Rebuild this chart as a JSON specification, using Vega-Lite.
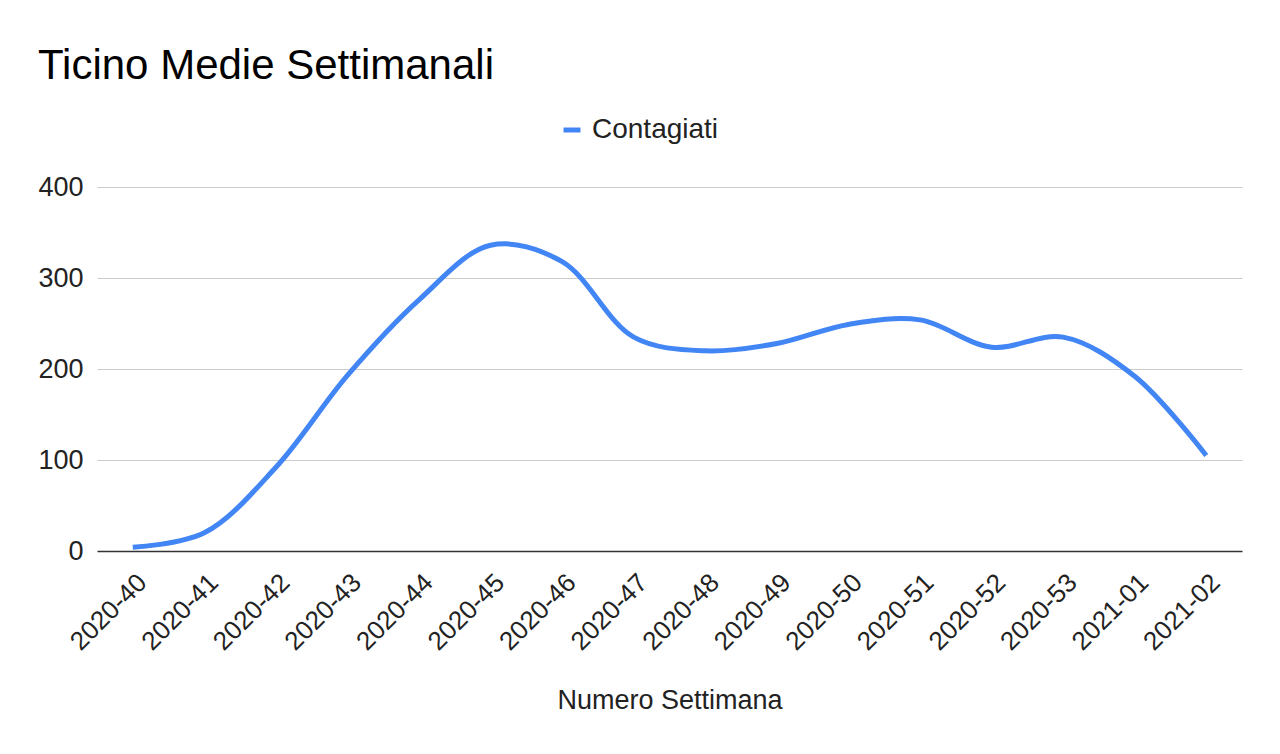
{
  "$schema": "https://vega.github.io/schema/vega-lite/v6.json",
  "width": 1145,
  "height": 364,
  "autosize": "none",
  "padding": {"left": 97, "top": 187, "right": 38, "bottom": 203},
  "background": "white",
  "title": {
    "text": "Ticino Medie Settimanali",
    "anchor": "start",
    "frame": "group",
    "dx": -59,
    "dy": 25,
    "baseline": "alphabetic",
    "offset": 20,
    "fontSize": 42,
    "font": "Liberation Sans",
    "fontWeight": "normal",
    "color": "#000000"
  },
  "config": {
    "view": {"stroke": null},
    "font": "Liberation Sans"
  },
  "data": {
    "values": [
      {"settimana": "2020-40", "valore": 4, "serie": "Contagiati"},
      {"settimana": "2020-41", "valore": 20, "serie": "Contagiati"},
      {"settimana": "2020-42", "valore": 92, "serie": "Contagiati"},
      {"settimana": "2020-43", "valore": 193, "serie": "Contagiati"},
      {"settimana": "2020-44", "valore": 276, "serie": "Contagiati"},
      {"settimana": "2020-45", "valore": 336, "serie": "Contagiati"},
      {"settimana": "2020-46", "valore": 318, "serie": "Contagiati"},
      {"settimana": "2020-47", "valore": 235, "serie": "Contagiati"},
      {"settimana": "2020-48", "valore": 220, "serie": "Contagiati"},
      {"settimana": "2020-49", "valore": 228, "serie": "Contagiati"},
      {"settimana": "2020-50", "valore": 249, "serie": "Contagiati"},
      {"settimana": "2020-51", "valore": 254, "serie": "Contagiati"},
      {"settimana": "2020-52", "valore": 224, "serie": "Contagiati"},
      {"settimana": "2020-53", "valore": 235, "serie": "Contagiati"},
      {"settimana": "2021-01", "valore": 192, "serie": "Contagiati"},
      {"settimana": "2021-02", "valore": 105, "serie": "Contagiati"}
    ]
  },
  "mark": {"type": "line", "interpolate": "catmull-rom", "strokeWidth": 5, "strokeCap": "butt"},
  "encoding": {
    "x": {
      "field": "settimana",
      "type": "ordinal",
      "scale": {"padding": 0.5},
      "axis": {
        "title": "Numero Settimana",
        "titleFontSize": 27,
        "titleFontWeight": "normal",
        "titleColor": "#222222",
        "titlePadding": 33,
        "labelAngle": -45,
        "labelFontSize": 26,
        "labelColor": "#222222",
        "labelPadding": 18,
        "ticks": false,
        "grid": false,
        "domain": true,
        "domainColor": "#333333",
        "domainWidth": 1.5
      }
    },
    "y": {
      "field": "valore",
      "type": "quantitative",
      "scale": {"domain": [0, 400], "nice": false},
      "axis": {
        "title": null,
        "values": [0, 100, 200, 300, 400],
        "labelFontSize": 27,
        "labelColor": "#222222",
        "labelPadding": 14,
        "ticks": false,
        "domain": false,
        "grid": true,
        "gridColor": "#cccccc",
        "gridWidth": 1
      }
    },
    "color": {
      "field": "serie",
      "type": "nominal",
      "scale": {"range": ["#4285f4"]},
      "legend": {
        "title": null,
        "orient": "none",
        "legendX": 461,
        "legendY": -71,
        "direction": "horizontal",
        "padding": 0,
        "symbolType": "stroke",
        "symbolSize": 289,
        "symbolStrokeWidth": 5,
        "labelFontSize": 28,
        "labelColor": "#222222",
        "labelOffset": 6
      }
    }
  }
}
